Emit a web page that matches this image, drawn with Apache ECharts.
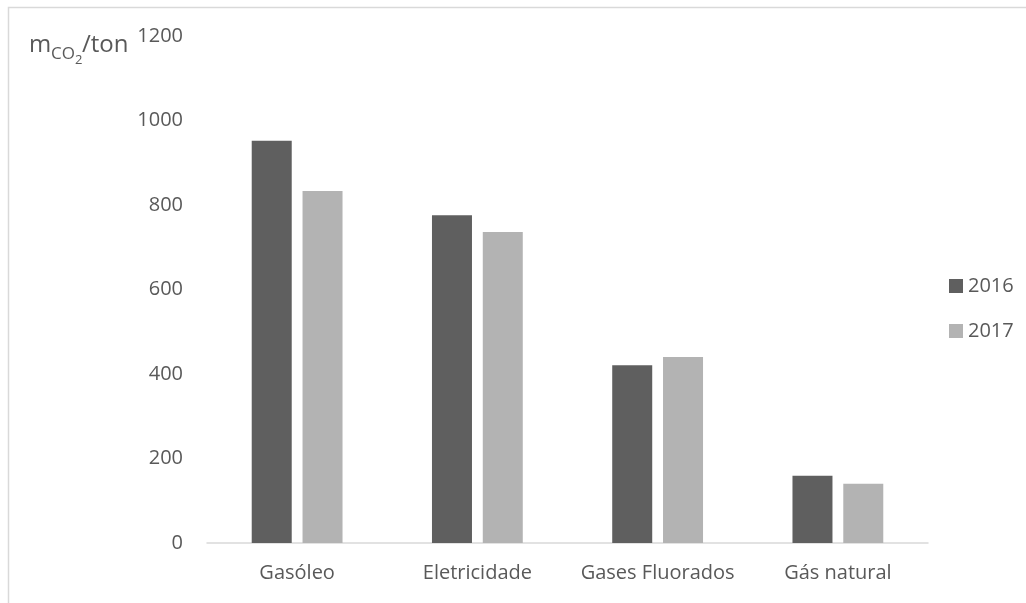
<!DOCTYPE html>
<html>
<head>
<meta charset="utf-8">
<script src="https://cdn.jsdelivr.net/npm/echarts@6/dist/echarts.min.js"></script>
<style>
  html, body { margin: 0; padding: 0; background: #fff; }
  #chart { width: 1026px; height: 603px; }
</style>
</head>
<body>
<div id="chart"></div>
<script>
// CO2 emissions per energy source, by year
const categories = ['Gasóleo', 'Eletricidade', 'Gases Fluorados', 'Gás natural'];
const years = ['2016', '2017'];
const values2016 = [952, 776, 421, 159];
const values2017 = [833, 736, 440, 140];
const yTicks = { min: 0, max: 1200, interval: 200 };

const textColor = '#595959';
const font = 'Open Sans';

const chart = echarts.init(document.getElementById('chart'));

chart.setOption({
  animation: false,
  backgroundColor: '#ffffff',
  grid: { left: 207, right: 98, top: 36, bottom: 60, containLabel: false },
  legend: {
    orient: 'vertical',
    left: 944,
    top: 271,
    itemWidth: 14,
    itemHeight: 14,
    itemGap: 25,
    icon: 'rect',
    textStyle: { color: textColor, fontFamily: font, fontSize: 20 },
    data: years
  },
  xAxis: {
    type: 'category',
    data: categories,
    axisLine: { lineStyle: { color: '#d9d9d9', width: 1.5 } },
    axisTick: { show: false },
    axisLabel: { color: textColor, fontFamily: font, fontSize: 20, margin: 20, interval: 0 }
  },
  yAxis: {
    type: 'value',
    min: yTicks.min,
    max: yTicks.max,
    interval: yTicks.interval,
    axisLine: { show: false },
    axisTick: { show: false },
    splitLine: { show: false },
    axisLabel: {
      color: textColor, fontFamily: font, fontSize: 20, margin: 24,
      formatter: (v) => String(v)
    }
  },
  series: [
    {
      name: years[0], type: 'bar', data: values2016,
      barWidth: 40, barGap: '27%',
      itemStyle: { color: '#5f5f5f' }
    },
    {
      name: years[1], type: 'bar', data: values2017,
      barWidth: 40,
      itemStyle: { color: '#b3b3b3' }
    }
  ],
  graphic: [
    // frame around the chart area
    { type: 'rect', shape: { x: 8.5, y: 7.5, width: 1100, height: 700 },
      style: { fill: 'none', stroke: '#d9d9d9', lineWidth: 1.5 }, silent: true },
    // unit label: m_CO2/ton
    { type: 'text', left: 29, top: 33,
      style: { text: 'm', fill: textColor, font: '24px "Open Sans"' } },
    { type: 'text', left: 51, top: 46,
      style: { text: 'CO', fill: textColor, font: '17px "Open Sans"' } },
    { type: 'text', left: 75, top: 54,
      style: { text: '2', fill: textColor, font: '13px "Open Sans"' } },
    { type: 'text', left: 82, top: 33,
      style: { text: '/ton', fill: textColor, font: '24px "Open Sans"' } }
  ]
});
</script>
</body>
</html>
